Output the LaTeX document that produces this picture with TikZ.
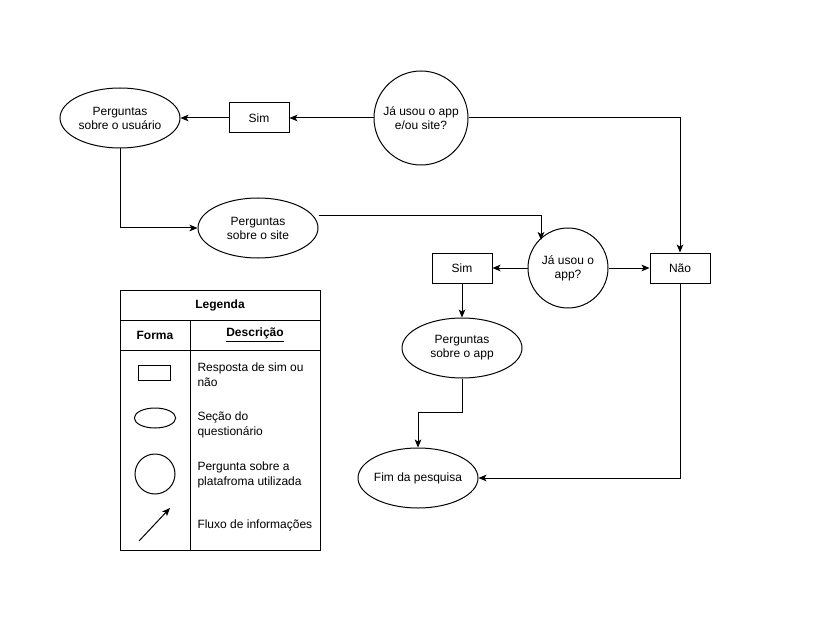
\documentclass[tikz,border=0pt]{standalone}
\usepackage{fontspec}
\setmainfont{Liberation Sans}
\usetikzlibrary{arrows.meta,shapes.geometric,calc}
\begin{document}
\begin{tikzpicture}[x=0.75pt,y=-0.75pt,
  every node/.style={font=\fontsize{9}{10.5}\selectfont},
  line width=0.75pt,
  box/.style={draw,minimum width=45pt,minimum height=22.5pt,inner sep=0pt},
  sec/.style={draw,ellipse,minimum width=90pt,minimum height=45pt,inner sep=0pt,align=center},
  ask/.style={draw,circle,inner sep=0pt,align=center},
  flow/.style={-{Stealth[length=6pt,width=5pt,inset=1.5pt]}},
  lbl/.style={anchor=west,align=left,inner sep=0pt,font=\fontsize{9}{11.2}\selectfont}]
\useasboundingbox (0,0) rectangle (827,620);
% main nodes
\node[ask,minimum size=70.5pt] (q1) at (421,118) {Já usou o app\\e/ou site?};
\node[box] (sim1) at (259,118) {Sim};
\node[sec] (user) at (120,118) {Perguntas\\sobre o usuário};
\node[sec] (site) at (258,228) {Perguntas\\sobre o site};
\node[ask,minimum size=60pt] (q2) at (568,268) {Já usou o\\app?};
\node[box] (sim2) at (462,268) {Sim};
\node[box] (nao) at (680,268) {Não};
\node[sec] (app) at (462,348) {Perguntas\\sobre o app};
\node[sec,inner xsep=-3pt] (fim) at (418,478) {Fim da pesquisa};
\coordinate (c1) at (680,118);
\coordinate (c2) at (541,216);
\coordinate (c3) at (541,240);
\coordinate (c4) at (462,412);
\coordinate (c5) at (418,412);
\coordinate (c6) at (680,478);
\coordinate (c7) at (120,228);
% connectors
\draw[flow] (q1.west) -- (sim1.east);
\draw[flow] (sim1.west) -- (user.east);
\draw[flow] (user.south) -- (c7) -- (site.west);
\draw[flow] (site.east |- c2) -- (c2) -- (c3);
\draw[flow] (q1.east) -- (c1) -- (nao.north);
\draw[flow] (q2.west) -- (sim2.east);
\draw[flow] (q2.east) -- (nao.west);
\draw[flow] (sim2.south) -- (app.north);
\draw[flow] (app.south) -- (c4) -- (c5) -- (fim.north);
\draw[flow] (nao.south) -- (c6) -- (fim.east);
% legend
\draw (120,290) rectangle (320,550);
\draw (120,320) -- (320,320);
\draw (120,350) -- (320,350);
\draw (190,320) -- (190,550);
\node[font=\bfseries\fontsize{9}{10.5}\selectfont] (lt) at (220,305) {Legenda};
\node[font=\bfseries\fontsize{9}{10.5}\selectfont] (lf) at (155,335) {Forma};
\node[font=\bfseries\fontsize{9}{10.5}\selectfont] (ld) at (255,335) {\underline{Descrição}};
\node[draw,minimum width=24pt,minimum height=11.25pt,inner sep=0pt] (lr) at (154,373) {};
\node[draw,ellipse,minimum width=31pt,minimum height=15pt,inner sep=0pt] (le) at (155,418) {};
\node[draw,circle,minimum size=30pt,inner sep=0pt] (lc) at (155,474) {};
\coordinate (la1) at (139,541);
\coordinate (la2) at (170,508);
\draw[flow] (la1) -- (la2);
\node[lbl] (t1) at (197,375) {Resposta de sim ou\\não};
\node[lbl] (t2) at (197,425) {Seção do\\questionário};
\node[lbl] (t3) at (197,475) {Pergunta sobre a\\platafroma utilizada};
\node[lbl] (t4) at (197,525) {Fluxo de informações};
\end{tikzpicture}
\end{document}
